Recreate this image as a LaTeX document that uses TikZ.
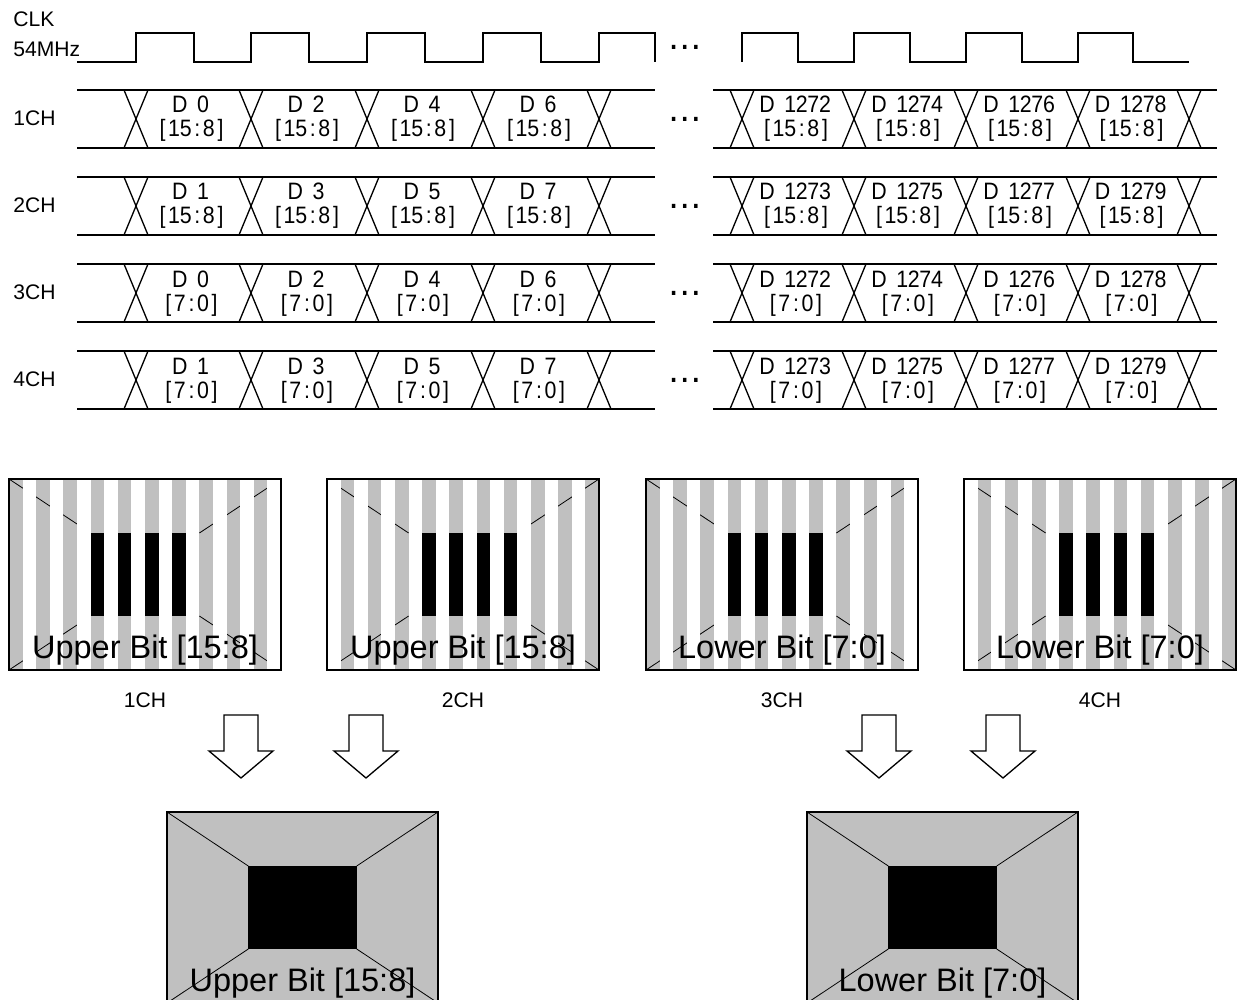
\documentclass[tikz,border=0pt]{standalone}
\usepackage{fontspec}
\setmainfont{Liberation Sans}
\newfontfamily\dfont[FakeStretch=0.9]{Liberation Sans}
\newfontfamily\dotfont{DejaVu Sans}
\definecolor{scrgray}{RGB}{192,192,192}
\makeatletter
\newcommand\mcell[1]{\makebox[6.6pt][c]{#1}}
\def\monorun#1{\monorun@#1\@nil}
\def\monorun@#1{\ifx#1\@nil\else\mcell{#1}\expandafter\monorun@\fi}
\makeatother
\begin{document}
\begin{tikzpicture}[x=0.02cm,y=-0.02cm,
  sig/.style={line width=0.75pt},
  lbl/.style={font=\fontsize{12}{14}\selectfont, inner sep=0pt},
  dat/.style={font=\dfont\fontsize{13.5}{15}\selectfont, inner sep=0pt, anchor=base},
  dots/.style={font=\dotfont\fontsize{19}{20}\selectfont, inner sep=0pt, anchor=base},
  big/.style={font=\fontsize{18.5}{20}\selectfont, inner sep=0pt, anchor=base},
  diag/.style={line width=0.45pt},
  border/.style={line width=0.6pt},
  blockarrow/.style={line width=0.75pt, fill=white, line join=miter}]
\useasboundingbox (0,0) rectangle (1240,1000);
\clip (0,0) rectangle (1240,1000);

% clock
\node[lbl, anchor=base west] (clk) at (13,27) {CLK};
\node[lbl, anchor=base west] (mhz) at (13,57) {54MHz};
\draw[sig] (77,62) -- (136,62) -- (136,33) -- (194,33) -- (194,62) -- (251,62) -- (251,33) -- (309,33) -- (309,62) -- (367,62) -- (367,33) -- (425,33) -- (425,62) -- (483,62) -- (483,33) -- (541,33) -- (541,62) -- (599,62) -- (599,33) -- (655,33) -- (655,62);
\draw[sig] (742,62) -- (742,33) -- (798,33) -- (798,62) -- (854,62) -- (854,33) -- (910,33) -- (910,62) -- (966,62) -- (966,33) -- (1022,33) -- (1022,62) -- (1078,62) -- (1078,33) -- (1133,33) -- (1133,62) -- (1189,62);
\node[dots] (dclk) at (685,49.5) {…};

% data rows
\foreach \T/\o/\b [count=\r] in {90/0/15:8, 177/1/15:8, 264/0/7:0, 351/1/7:0} {
  \node[lbl, anchor=west] (ch\r) at (13,\T+28) {\r CH};
  \draw[sig] (77,\T) -- (655,\T) (77,\T+58) -- (655,\T+58);
  \draw[sig] (713,\T) -- (1217,\T) (713,\T+58) -- (1217,\T+58);
  \foreach \c in {136,251,367,483,599,742,854,966,1078,1189} {
    \draw[sig] (\c-12,\T) -- (\c+12,\T+58) (\c+12,\T) -- (\c-12,\T+58);
  }
  \node[dots] (dr\r) at (685,\T+31.5) {…};
  \foreach \x [count=\k from 0] in {191.5,307,423,539} {
    \pgfmathtruncatemacro\n{2*\k+\o}
    \node[dat] (dl\r\k) at (\x,\T+23) {\mcell{D}\mcell{ }\expandafter\monorun\expandafter{\n}};
    \node[dat] (bl\r\k) at (\x,\T+47) {\mcell{[}\expandafter\monorun\expandafter{\b}\mcell{]}};
  }
  \foreach \x [count=\k from 0] in {796,908,1020,1131.5} {
    \pgfmathtruncatemacro\n{1272+2*\k+\o}
    \node[dat] (dr\r\k) at (\x,\T+23) {\mcell{D}\mcell{ }\expandafter\monorun\expandafter{\n}};
    \node[dat] (br\r\k) at (\x,\T+47) {\mcell{[}\expandafter\monorun\expandafter{\b}\mcell{]}};
  }
}

% channel screens
\foreach \L/\p/\txt [count=\s] in {9/1/{Upper Bit [15:8]}, 327/0/{Upper Bit [15:8]}, 646/1/{Lower Bit [7:0]}, 964/0/{Lower Bit [7:0]}} {
  \fill[scrgray] (\L,479) rectangle ++(272,191);
  \draw[diag] (\L,479) -- (\L+81.6,533) (\L+272,479) -- (\L+190.4,533)
              (\L,670) -- (\L+81.6,616) (\L+272,670) -- (\L+190.4,616);
  \fill[black] (\L+81.6,533) rectangle (\L+190.4,616);
  \foreach \i in {0,...,9} {
    \fill[white] (\L+27.2*\i+13.6*\p,479) rectangle ++(13.6,191);
  }
  \draw[border] (\L,479) rectangle ++(272,191);
  \node[big] (st\s) at (\L+136,658) {\txt};
  \node[lbl] (sc\s) at (\L+136,700) {\s CH};
}

% arrows
\foreach \cx [count=\a] in {241,366,879,1003} {
  \draw[blockarrow] (\cx-17,715) -- (\cx+17,715) -- (\cx+17,751) -- (\cx+32,751) -- (\cx,778) -- (\cx-32,751) -- (\cx-17,751) -- cycle;
}

% merged screens
\foreach \L/\txt [count=\s] in {167/{Upper Bit [15:8]}, 807/{Lower Bit [7:0]}} {
  \fill[scrgray] (\L,812) rectangle ++(271,191);
  \draw[diag] (\L,812) -- (\L+81.3,866) (\L+271,812) -- (\L+189.7,866)
              (\L,1003) -- (\L+81.3,949) (\L+271,1003) -- (\L+189.7,949);
  \fill[black] (\L+81.3,866) rectangle (\L+189.7,949);
  \draw[border] (\L,812) rectangle ++(271,191);
  \node[big] (mt\s) at (\L+135.5,991) {\txt};
}
\end{tikzpicture}
\end{document}
